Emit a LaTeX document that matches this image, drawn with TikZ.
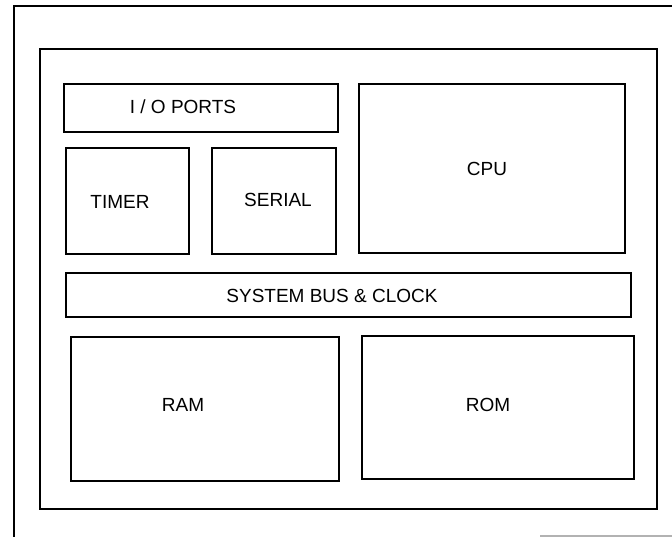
\documentclass[tikz,border=0pt]{standalone}
\usepackage{fontspec}
\setmainfont{Liberation Sans}
\tikzset{
  blk/.style={draw, line width=1.4pt, inner sep=0pt},
  lbl/.style={inner sep=1pt, font=\fontsize{19}{21}\selectfont}
}

\begin{document}
\begin{tikzpicture} [x=1pt, y=-1pt]
\useasboundingbox (0,0) rectangle (672,537);
% board edge, cut off at the right and at the bottom
\draw[line width=1.4pt] (672,6) -- (14,6) -- (14,537);
\draw[gray!60, line width=1.4pt] (540,536) -- (672,536);
% chip outline
\node[blk, minimum width=617, minimum height=460] (chip) at (348.5,279) {};
% upper row
\node[blk, minimum width=274, minimum height=48] (io) at (201,108) {};
\node[blk, minimum width=123, minimum height=106] (timer) at (127.5,201) {};
\node[blk, minimum width=124, minimum height=106] (serial) at (274,201) {};
\node[blk, minimum width=266, minimum height=169] (cpu) at (492,168.5) {};
% bus across the middle
\node[blk, minimum width=565, minimum height=44] (bus) at (348.5,295) {};
% memories
\node[blk, minimum width=268, minimum height=144] (ram) at (205,409) {};
\node[blk, minimum width=272, minimum height=143] (rom) at (498,407.5) {};
% block names
\node[lbl] (iotxt) at (183,107) {I / O PORTS};
\node[lbl] (timertxt) at (120,202) {TIMER};
\node[lbl] (serialtxt) at (278,200) {SERIAL};
\node[lbl] (cputxt) at (487,169) {CPU};
\node[lbl] (bustxt) at (332,296) {SYSTEM BUS \& CLOCK};
\node[lbl] (ramtxt) at (183,405) {RAM};
\node[lbl] (romtxt) at (488,405) {ROM};
\end{tikzpicture}
\end{document}
